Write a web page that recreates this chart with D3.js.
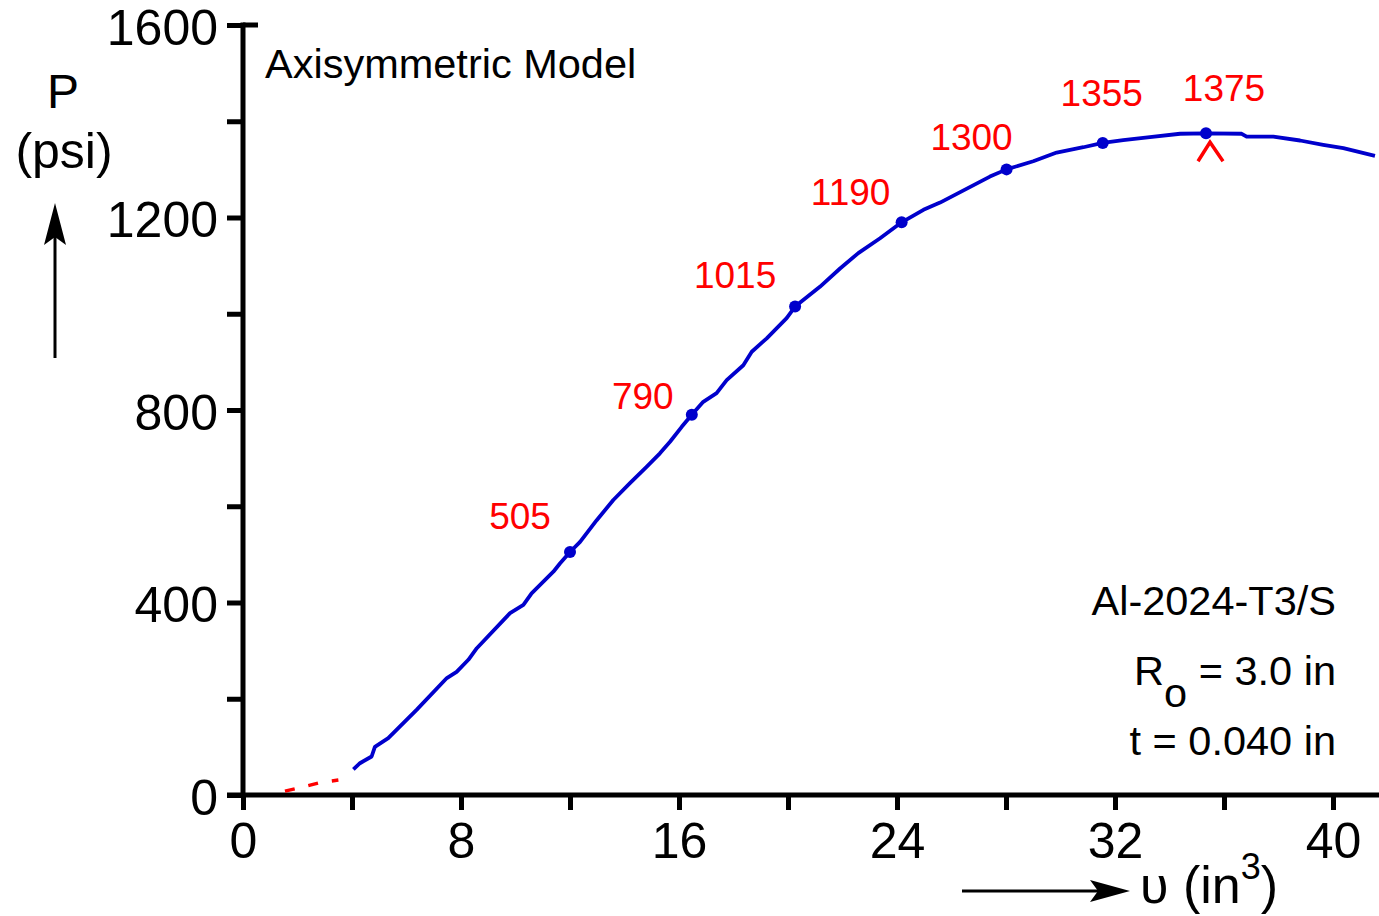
<!DOCTYPE html>
<html>
<head>
<meta charset="utf-8">
<script src="https://cdn.jsdelivr.net/npm/d3@7"></script>
<style>
  body { margin: 0; background: #fff; }
  text { font-family: "Liberation Sans", Arial, sans-serif; }
</style>
</head>
<body>
<div id="chart"></div>
<script>
/*
*/
var curveV = [4.05, 4.29, 4.72, 4.84, 5.33, 6.37, 7.48, 7.84, 8.27, 8.58, 9.80, 10.29, 10.59, 11.39, 11.63, 12.0,
  12.37, 12.98, 13.59, 14.20, 14.81, 15.30, 15.67, 16.10, 16.47, 16.89, 17.38, 17.75, 18.36, 18.67, 19.22, 19.95,
  20.26, 21.17, 21.91, 22.58, 23.38, 24.17, 24.97, 25.58, 27.41, 28.02, 29.00, 29.86, 30.84, 31.55, 32.30, 33.28,
  34.39, 35.34, 36.65, 36.83, 37.81, 38.79, 39.64, 40.38, 41.54];
var curveP = [53, 66, 80, 100, 118, 177, 243, 256, 281, 305, 378, 395, 419, 464, 481, 505,
  526, 571, 613, 648, 682, 710, 734, 765, 790, 817, 835, 862, 893, 921, 949, 991,
  1015, 1056, 1094, 1126, 1157, 1190, 1216, 1231, 1285, 1300, 1317, 1335, 1346, 1355, 1361, 1367,
  1374, 1375, 1374, 1368, 1368, 1360, 1351, 1344, 1328];

// dashed start (red)
var startV = [1.54, 2.0, 2.5, 2.85, 3.5];
var startP = [8, 14, 21, 26, 31];

// labelled points
var markV = [12.0, 16.47, 20.26, 24.17, 28.02, 31.55, 35.34];
var markP = [505, 790, 1015, 1190, 1300, 1355, 1375];
var markLabels = ["505", "790", "1015", "1190", "1300", "1355", "1375"];
// label offsets from the point, pixels
var labelDx = [-50, -49, -60, -51, -35, -1, 18];
var labelDy = [-23, -6, -19, -17, -19, -37, -32];

var xTicks = [0, 4, 8, 12, 16, 20, 24, 28, 32, 36, 40];
var yTicks = [0, 200, 400, 600, 800, 1000, 1200, 1400, 1600];

/*
Svg and scales
*/
var W = 1379, H = 916;
var svg = d3.select("#chart").append("svg")
  .attr("width", W).attr("height", H);

var xScale = d3.scaleLinear().domain([0, 40]).range([243, 1333]);
var yScale = d3.scaleLinear().domain([0, 1600]).range([795, 25]);

var blue = "#0000cc", red = "#ff0000";
var axisW = 5;
var font = "'Liberation Sans', Arial, sans-serif";

// x axis
var xAxis = d3.axisBottom(xScale)
  .tickValues(xTicks)
  .tickSize(15)
  .tickSizeOuter(0)
  .tickFormat(function(d) { return d % 8 === 0 ? d : ""; });

var gX = svg.append("g")
  .attr("transform", "translate(0," + yScale(0) + ")")
  .call(xAxis);
gX.select(".domain").remove();
gX.selectAll("line").attr("stroke", "#000").attr("stroke-width", axisW);
gX.selectAll("text")
  .attr("fill", "#000")
  .attr("font-size", 50)
  .attr("dy", null)
  .attr("y", 63)
  .attr("font-family", font);

// y axis
var yAxis = d3.axisLeft(yScale)
  .tickValues(yTicks)
  .tickSize(16)
  .tickSizeOuter(0)
  .tickFormat(function(d) { return d % 400 === 0 ? d : ""; });

var gY = svg.append("g")
  .attr("transform", "translate(" + xScale(0) + ",0)")
  .call(yAxis);
gY.select(".domain").remove();
gY.selectAll("line").attr("stroke", "#000").attr("stroke-width", axisW);
gY.selectAll("text")
  .attr("fill", "#000")
  .attr("font-size", 50)
  .attr("x", -25)
  .attr("dy", "0.38em")
  .attr("font-family", font);

// axis lines
svg.append("line")
  .attr("x1", xScale(0) - 16).attr("x2", W)
  .attr("y1", yScale(0)).attr("y2", yScale(0))
  .attr("stroke", "#000").attr("stroke-width", axisW);
svg.append("line")
  .attr("x1", xScale(0)).attr("x2", xScale(0))
  .attr("y1", yScale(0)).attr("y2", yScale(1600) - axisW / 2)
  .attr("stroke", "#000").attr("stroke-width", axisW);
// cap at top of y axis
svg.append("line")
  .attr("x1", xScale(0)).attr("x2", xScale(0) + 15)
  .attr("y1", yScale(1600)).attr("y2", yScale(1600))
  .attr("stroke", "#000").attr("stroke-width", axisW);

/*
Curves
*/
var line = d3.line()
  .x(function(d) { return xScale(d[0]); })
  .y(function(d) { return yScale(d[1]); });

svg.append("path")
  .datum(d3.zip(startV, startP))
  .attr("d", line)
  .attr("fill", "none")
  .attr("stroke", red)
  .attr("stroke-width", 3.5)
  .attr("stroke-dasharray", "10,14");

svg.append("path")
  .datum(d3.zip(curveV, curveP))
  .attr("d", line)
  .attr("fill", "none")
  .attr("stroke", blue)
  .attr("stroke-width", 3.8)
  .attr("stroke-linejoin", "round");

var marks = d3.range(markV.length).map(function(i) {
  return { v: markV[i], p: markP[i], label: markLabels[i], dx: labelDx[i], dy: labelDy[i] };
});

svg.append("g").selectAll("circle")
  .data(marks).enter().append("circle")
  .attr("cx", function(d) { return xScale(d.v); })
  .attr("cy", function(d) { return yScale(d.p); })
  .attr("r", 6)
  .attr("fill", blue);

svg.append("g").selectAll("text")
  .data(marks).enter().append("text")
  .attr("x", function(d) { return xScale(d.v) + d.dx; })
  .attr("y", function(d) { return yScale(d.p) + d.dy; })
  .attr("text-anchor", "middle")
  .attr("font-size", 37)
  .attr("fill", red)
  .text(function(d) { return d.label; });

// caret below the peak
var peak = marks[marks.length - 1];
var px = xScale(peak.v), py = yScale(peak.p);
svg.append("path")
  .attr("d", "M" + (px - 8) + "," + (py + 28) + "L" + (px + 4) + "," + (py + 9) + "L" + (px + 17) + "," + (py + 28))
  .attr("fill", "none")
  .attr("stroke", red)
  .attr("stroke-width", 3.5);

/*
Texts
*/
svg.append("text")
  .attr("x", 265).attr("y", 78)
  .attr("font-size", 41.5)
  .text("Axisymmetric Model");

svg.append("text")
  .attr("x", 1336).attr("y", 615)
  .attr("text-anchor", "end")
  .attr("font-size", 41.5)
  .text("Al-2024-T3/S");

var ro = svg.append("text")
  .attr("x", 1336).attr("y", 685)
  .attr("text-anchor", "end")
  .attr("font-size", 41.5);
ro.append("tspan").text("R");
ro.append("tspan").attr("dy", 22).text("o");
ro.append("tspan").attr("dy", -22).text(" = 3.0 in");

svg.append("text")
  .attr("x", 1336).attr("y", 755)
  .attr("text-anchor", "end")
  .attr("font-size", 41.5)
  .text("t = 0.040 in");

// y label
svg.append("text")
  .attr("x", 63).attr("y", 108)
  .attr("text-anchor", "middle")
  .attr("font-size", 48)
  .text("P");
svg.append("text")
  .attr("x", 64).attr("y", 168)
  .attr("text-anchor", "middle")
  .attr("font-size", 50)
  .text("(psi)");

// arrows
svg.append("line")
  .attr("x1", 55).attr("x2", 55).attr("y1", 358).attr("y2", 230)
  .attr("stroke", "#000").attr("stroke-width", 3);
svg.append("path")
  .attr("d", "M55,203 L66,245 L55,237 L44,245 Z")
  .attr("fill", "#000");

svg.append("line")
  .attr("x1", 962).attr("x2", 1100).attr("y1", 891).attr("y2", 891)
  .attr("stroke", "#000").attr("stroke-width", 3);
svg.append("path")
  .attr("d", "M1130,891 L1090,880 L1098,891 L1090,902 Z")
  .attr("fill", "#000");

var xl = svg.append("text")
  .attr("x", 1140).attr("y", 903)
  .attr("font-size", 52);
xl.append("tspan").text("\u03c5 (in");
xl.append("tspan").attr("dy", -24).attr("font-size", 36).text("3");
xl.append("tspan").attr("dy", 24).text(")");
</script>
</body>
</html>
